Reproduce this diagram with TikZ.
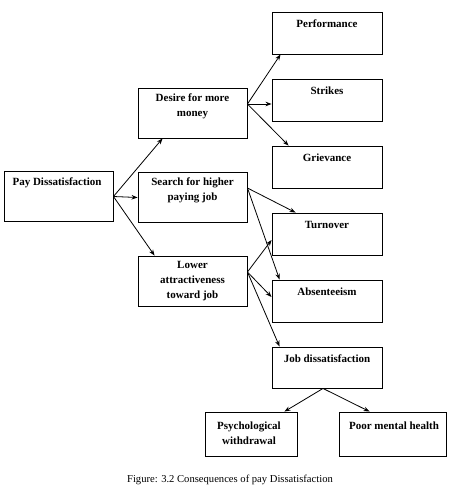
\documentclass[tikz,border=0pt]{standalone}
\usepackage{fontspec}
\setmainfont{Liberation Serif}
\usetikzlibrary{arrows.meta,calc}
\begin{document}
\begin{tikzpicture}[x=1pt,y=-1pt,
  box/.style={draw=black,line width=0.9pt,minimum width=109pt,minimum height=50pt,inner sep=0pt,fill=white},
  sbox/.style={box,minimum width=110pt,minimum height=42pt},
  txt/.style={font=\fontsize{11}{15}\selectfont\bfseries,align=center,inner sep=0pt},
  arr/.style={line width=0.8pt,-{Stealth[length=6pt,width=4.5pt]}}]
\useasboundingbox (0,0) rectangle (454,490);
% boxes
\node[box] (pay) at (58.5,196.5) {};
\node[box] (desire) at (192.5,113) {};
\node[box] (search) at (192.5,197.5) {};
\node[box] (lower) at (192.5,281) {};
\node[sbox] (perf) at (327,33) {};
\node[sbox] (strikes) at (327,100) {};
\node[sbox] (griev) at (327,167) {};
\node[sbox] (turn) at (327,234) {};
\node[sbox] (absent) at (327,301) {};
\node[sbox,minimum height=41pt] (jobd) at (327,367.5) {};
\node[box,minimum width=92pt,minimum height=44pt] (psych) at (251,434) {};
\node[box,minimum width=107pt,minimum height=44pt] (poor) at (392.5,434) {};
% texts
\node[txt] (tpay) at (57,183) {Pay Dissatisfaction};
\node[txt] (tdesire) at (192.5,106.5) {Desire for more\\money};
\node[txt] (tsearch) at (192.5,190.5) {Search for higher\\paying job};
\node[txt] (tlower) at (192.5,281) {Lower\\attractiveness\\toward job};
\node[txt] (tperf) at (327,24) {Performance};
\node[txt] (tstrikes) at (327,91) {Strikes};
\node[txt] (tgriev) at (327,158) {Grievance};
\node[txt] (tturn) at (327,225) {Turnover};
\node[txt] (tabsent) at (327,292) {Absenteeism};
\node[txt] (tjobd) at (327,359) {Job dissatisfaction};
\node[txt] (tpsych) at (249,433) {Psychological\\withdrawal};
\node[txt] (tpoor) at (394,426) {Poor mental health};
\node[font=\fontsize{10.6}{12}\selectfont,inner sep=0pt] (cap) at (230,480) {Figure: 3.2 Consequences of pay Dissatisfaction};
% arrows
\draw[arr] (pay.east) -- ($(desire.south west)+(25,0)$);
\draw[arr] (pay.east) -- (search.west);
\draw[arr] (pay.east) -- ($(lower.north west)+(17,0)$);
\coordinate (dstart) at ($(desire.east)+(0,-9)$);
\draw[arr] (dstart) -- ($(perf.south west)+(9,0)$);
\draw[arr] (dstart) -- ($(strikes.west)+(0,4)$);
\draw[arr] (dstart) -- ($(griev.north west)+(17,0)$);
\coordinate (sstart) at ($(search.east)+(0,-9.5)$);
\draw[arr] (sstart) -- ($(turn.north west)+(24,0)$);
\draw[arr] (sstart) -- ($(absent.north west)+(8,0)$);
\coordinate (lstart) at ($(lower.east)+(0,-9)$);
\draw[arr] (lstart) -- ($(turn.west)+(0,6)$);
\draw[arr] (lstart) -- ($(absent.west)+(0,-4)$);
\draw[arr] (lstart) -- ($(jobd.north west)+(8,0)$);
\coordinate (jstart) at ($(jobd.south)+(-4,0)$);
\draw[arr] (jstart) -- ($(psych.north east)+(-13,0)$);
\draw[arr] (jstart) -- ($(poor.north west)+(31,0)$);
\end{tikzpicture}
\end{document}
